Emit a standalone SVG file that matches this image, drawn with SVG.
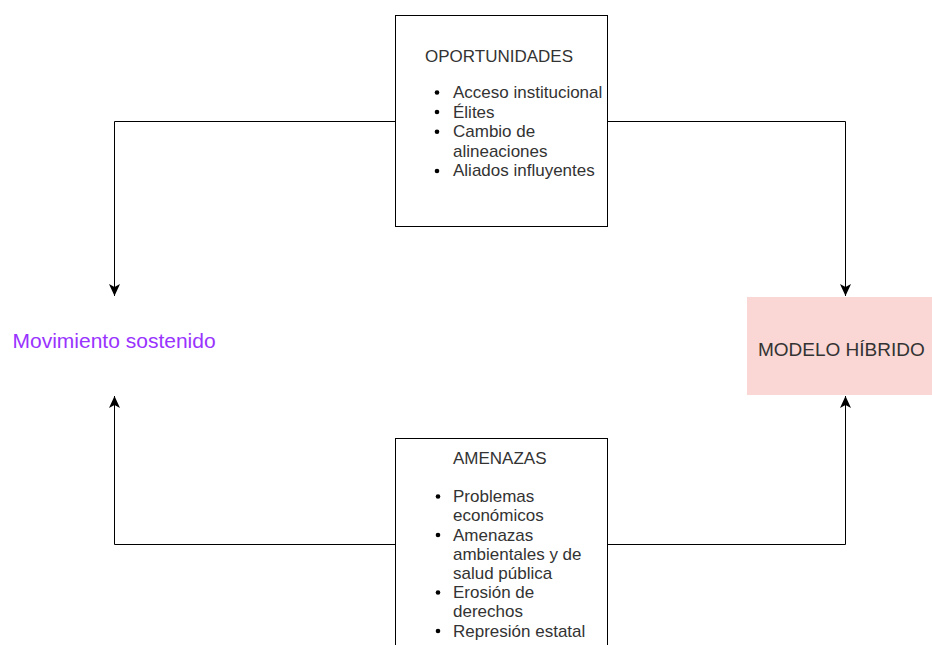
<svg xmlns="http://www.w3.org/2000/svg" width="932" height="645" viewBox="0 0 932 645">
  <style>
    .box { fill: #ffffff; stroke: #000000; stroke-width: 1; }
    .t { font-family: "Liberation Sans", Arial, sans-serif; font-size: 17px; fill: #333333; }
    .conn { fill: none; stroke: #000000; stroke-width: 1; }
    .dot { fill: #000000; }
  </style>
  <defs>
    <marker id="arrow" markerUnits="userSpaceOnUse" markerWidth="12" markerHeight="11" viewBox="0 0 12 11" refX="12" refY="5.5" orient="auto">
      <path d="M0,0 L12,5.5 L0,11 L3,5.5 Z" fill="#000000"/>
    </marker>
  </defs>
  <rect width="932" height="645" fill="#ffffff"/>

  <g id="connectors">
    <path class="conn" d="M395,121.5 H114.5 V296" marker-end="url(#arrow)"/>
    <path class="conn" d="M607,121.5 H845.5 V296" marker-end="url(#arrow)"/>
    <path class="conn" d="M395,544.5 H114.5 V396" marker-end="url(#arrow)"/>
    <path class="conn" d="M607,544.5 H845.5 V396" marker-end="url(#arrow)"/>
  </g>

  <g id="oportunidades">
    <rect class="box" x="395.5" y="15.5" width="212" height="211"/>
    <text class="t" x="425" y="62">OPORTUNIDADES</text>
    <circle class="dot" cx="437" cy="92.5" r="2.3"/>
    <text class="t" x="453" y="98">Acceso institucional</text>
    <circle class="dot" cx="437" cy="112" r="2.3"/>
    <text class="t" x="453" y="117.6">Élites</text>
    <circle class="dot" cx="437" cy="131.7" r="2.3"/>
    <text class="t" x="453" y="137.2">Cambio de</text>
    <text class="t" x="453" y="156.8">alineaciones</text>
    <circle class="dot" cx="437" cy="171" r="2.3"/>
    <text class="t" x="453" y="176.4">Aliados influyentes</text>
  </g>

  <g id="amenazas">
    <rect class="box" x="395.5" y="438.5" width="212" height="230"/>
    <text class="t" x="453" y="463.5">AMENAZAS</text>
    <circle class="dot" cx="438" cy="496.5" r="2.3"/>
    <text class="t" x="453" y="502">Problemas</text>
    <text class="t" x="453" y="521">económicos</text>
    <circle class="dot" cx="438" cy="535" r="2.3"/>
    <text class="t" x="453" y="540.5">Amenazas</text>
    <text class="t" x="453" y="559.5">ambientales y de</text>
    <text class="t" x="453" y="578.5">salud pública</text>
    <circle class="dot" cx="438" cy="592.5" r="2.3"/>
    <text class="t" x="453" y="598">Erosión de</text>
    <text class="t" x="453" y="617">derechos</text>
    <circle class="dot" cx="438" cy="631" r="2.3"/>
    <text class="t" x="453" y="636.5">Represión estatal</text>
  </g>

  <g id="movimiento">
    <text x="12.5" y="348" font-family="Liberation Sans, Arial, sans-serif" font-size="21" fill="#9933FF">Movimiento sostenido</text>
  </g>

  <g id="modelo">
    <rect x="747" y="297" width="200" height="98" fill="#FAD7D4"/>
    <text x="758" y="356" font-family="Liberation Sans, Arial, sans-serif" font-size="19" fill="#333333">MODELO HÍBRIDO</text>
  </g>
</svg>
